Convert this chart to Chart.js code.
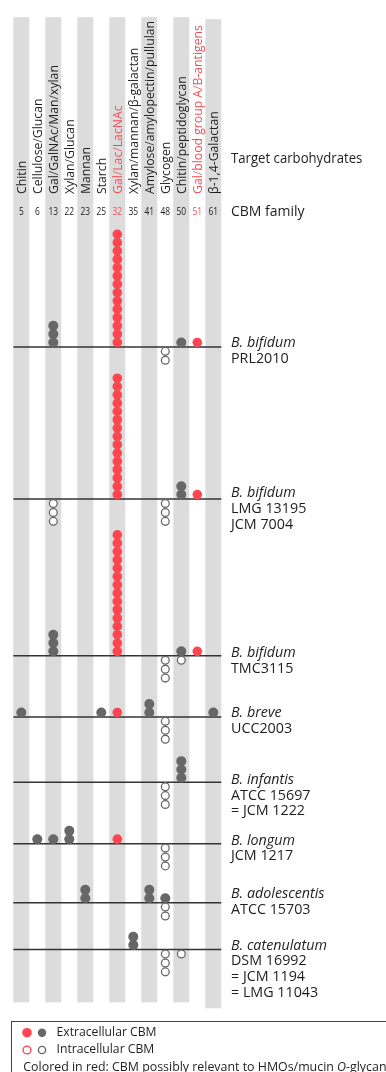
<!DOCTYPE html>
<html>
<head>
<meta charset="utf-8">
<script src="https://cdn.jsdelivr.net/npm/chart.js@4/dist/chart.umd.min.js"></script>
<style>
  html, body { margin: 0; padding: 0; background: #fff; }
  #wrap { width: 386px; height: 1072px; position: relative; overflow: hidden; }
</style>
</head>
<body>
<div id="wrap"><canvas id="cbmChart" width="386" height="1072"></canvas></div>
<script>
// CBM families (x categories) and their target carbohydrates
const families = ["5", "6", "13", "22", "23", "25", "32", "35", "41", "48", "50", "51", "61"];
const targets = [
  "Chitin", "Cellulose/Glucan", "Gal/GalNAc/Man/xylan", "Xylan/Glucan", "Mannan",
  "Starch", "Gal/Lac/LacNAc", "Xylan/mannan/β-galactan", "Amylose/amylopectin/pullulan",
  "Glycogen", "Chitin/peptidoglycan", "Gal/blood group A/B-antigens", "β-1,4-Galactan"
];
const redFamilies = ["32", "51"];

// strains
const strainNames = ["B. bifidum", "B. bifidum", "B. bifidum", "B. breve", "B. infantis", "B. longum", "B. adolescentis", "B. catenulatum"];
const strainIds = [
  ["PRL2010"], ["LMG 13195", "JCM 7004"], ["TMC3115"], ["UCC2003"],
  ["ATCC 15697", "= JCM 1222"], ["JCM 1217"], ["ATCC 15703"],
  ["DSM 16992", "= JCM 1194", "= LMG 11043"]
];

// number of CBMs per family (one row per strain)
const extracellular = [
  [0, 0, 3, 0, 0, 0, 14, 0, 0, 0, 1, 1, 0],
  [0, 0, 0, 0, 0, 0, 15, 0, 0, 0, 2, 1, 0],
  [0, 0, 3, 0, 0, 0, 15, 0, 0, 0, 1, 1, 0],
  [1, 0, 0, 0, 0, 1, 1, 0, 2, 0, 0, 0, 1],
  [0, 0, 0, 0, 0, 0, 0, 0, 0, 0, 3, 0, 0],
  [0, 1, 1, 2, 0, 0, 1, 0, 0, 0, 0, 0, 0],
  [0, 0, 0, 0, 2, 0, 0, 0, 2, 1, 0, 0, 0],
  [0, 0, 0, 0, 0, 0, 0, 2, 0, 0, 0, 0, 0]
];
const intracellular = [
  [0, 0, 0, 0, 0, 0, 0, 0, 0, 2, 0, 0, 0],
  [0, 0, 3, 0, 0, 0, 0, 0, 0, 3, 0, 0, 0],
  [0, 0, 0, 0, 0, 0, 0, 0, 0, 3, 1, 0, 0],
  [0, 0, 0, 0, 0, 0, 0, 0, 0, 3, 0, 0, 0],
  [0, 0, 0, 0, 0, 0, 0, 0, 0, 3, 0, 0, 0],
  [0, 0, 0, 0, 0, 0, 0, 0, 0, 3, 0, 0, 0],
  [0, 0, 0, 0, 0, 0, 0, 0, 0, 2, 0, 0, 0],
  [0, 0, 0, 0, 0, 0, 0, 0, 0, 3, 1, 0, 0]
];

// layout (y axis units = px)
const baseY = [345, 498.7, 657, 718.7, 784.7, 846.7, 906.3, 953.7];
const labelShift = [-4, -6, -3, -3.5, -2.5, -3, -8.5, -4];
const STEP_UP = 8.4, STEP_DOWN = 9, FIRST = 4.5;

const RED = "#ff4650";
const RED_TEXT = "#f0505a";
const GRAY = "#676767";
const BAND = "#dcdcdc";
const INK = "#1e1e1e";
const FONT = "'Open Sans', sans-serif";

function dots(rows, above, wantRed) {
  const pts = [];
  rows.forEach((row, s) => {
    row.forEach((n, c) => {
      if (redFamilies.includes(families[c]) !== wantRed) return;
      for (let k = 0; k < n; k++) {
        const y = above ? baseY[s] - FIRST - k * STEP_UP : baseY[s] + FIRST + k * STEP_DOWN;
        pts.push({ x: c, y: y });
      }
    });
  });
  return pts;
}

// text squeezed horizontally (the source type is narrow)
function squeezed(ctx, text, x, y, sx) {
  ctx.save();
  ctx.translate(x, y);
  ctx.scale(sx, 1);
  ctx.fillText(text, 0, 0);
  ctx.restore();
}

// bands, baselines and all text
const backdrop = {
  id: "backdrop",
  beforeDatasetsDraw(chart) {
    const ctx = chart.ctx;
    const x = chart.scales.x, y = chart.scales.y;
    ctx.save();
    ctx.fillStyle = BAND;
    families.forEach((f, c) => {
      if (c % 2) return;
      const last = c === families.length - 1;
      const top = y.getPixelForValue(last ? 14 : 12);
      const bot = y.getPixelForValue(last ? 1013 : 1007);
      const l = x.getPixelForValue(c - 0.5), r = x.getPixelForValue(c + 0.5);
      ctx.fillRect(l, top, r - l, bot - top);
    });
    ctx.strokeStyle = "#333";
    ctx.lineWidth = 1.5;
    baseY.forEach((b) => {
      const py = y.getPixelForValue(b);
      ctx.beginPath();
      ctx.moveTo(x.getPixelForValue(-0.5), py);
      ctx.lineTo(x.getPixelForValue(families.length - 0.5), py);
      ctx.stroke();
    });
    ctx.restore();
  },
  afterDraw(chart) {
    const ctx = chart.ctx;
    const x = chart.scales.x, y = chart.scales.y;
    ctx.save();
    ctx.fillStyle = INK;
    ctx.textAlign = "left";
    ctx.textBaseline = "middle";

    // rotated target labels
    ctx.font = "13px " + FONT;
    targets.forEach((t, c) => {
      ctx.save();
      ctx.translate(x.getPixelForValue(c) + 1, 194);
      ctx.rotate(-Math.PI / 2);
      ctx.scale(0.94, 1);
      ctx.fillStyle = redFamilies.includes(families[c]) ? RED_TEXT : INK;
      ctx.fillText(t, 0, 0);
      ctx.restore();
    });
    ctx.font = "14px " + FONT;
    squeezed(ctx, "Target carbohydrates", 231, 159, 0.94);

    // family numbers
    ctx.font = "10.5px " + FONT;
    ctx.textAlign = "center";
    families.forEach((f, c) => {
      ctx.fillStyle = redFamilies.includes(f) ? RED_TEXT : INK;
      squeezed(ctx, f, x.getPixelForValue(c), 212, 0.8);
    });
    ctx.fillStyle = INK;
    ctx.textAlign = "left";
    ctx.font = "14px " + FONT;
    squeezed(ctx, "CBM family", 231, 212, 1.0);

    // strain labels
    strainNames.forEach((name, s) => {
      const y0 = y.getPixelForValue(baseY[s]) + labelShift[s];
      ctx.font = "italic 14.3px " + FONT;
      ctx.fillText(name, 231, y0);
      ctx.font = "14.3px " + FONT;
      strainIds[s].forEach((id, i) => ctx.fillText(id, 231, y0 + 15.8 * (i + 1)));
    });

    // legend box
    ctx.strokeStyle = "#444";
    ctx.lineWidth = 1;
    ctx.strokeRect(11.5, 1021.5, 420, 100);
    const mark = (cx, cy, col, open, r) => {
      ctx.beginPath();
      ctx.arc(cx, cy, r, 0, Math.PI * 2);
      if (open) {
        ctx.fillStyle = "#fff";
        ctx.fill();
        ctx.lineWidth = 1.4;
        ctx.strokeStyle = col;
        ctx.stroke();
      } else {
        ctx.fillStyle = col;
        ctx.fill();
      }
    };
    mark(27, 1032.7, RED, false, 4.8);
    mark(42, 1032.7, GRAY, false, 4.2);
    mark(27, 1050, RED, true, 3.9);
    mark(42, 1050, GRAY, true, 3.6);
    ctx.fillStyle = INK;
    ctx.font = "12.2px " + FONT;
    ctx.fillText("Extracellular CBM", 56.5, 1032.7);
    ctx.fillText("Intracellular CBM", 56.5, 1050);
    ctx.font = "12.4px " + FONT;
    let tx = 23.3;
    const p1 = "Colored in red: CBM possibly relevant to HMOs/mucin ";
    ctx.fillText(p1, tx, 1067.7);
    tx += ctx.measureText(p1).width;
    ctx.font = "italic 12.4px " + FONT;
    ctx.fillText("O", tx, 1067.7);
    tx += ctx.measureText("O").width;
    ctx.font = "12.4px " + FONT;
    ctx.fillText("-glycan", tx, 1067.7);
    ctx.restore();
  }
};

new Chart(document.getElementById("cbmChart"), {
  type: "scatter",
  data: {
    datasets: [
      { label: "Extracellular CBM", data: dots(extracellular, true, true), backgroundColor: RED, borderWidth: 0, pointRadius: 4.8 },
      { label: "Extracellular CBM", data: dots(extracellular, true, false), backgroundColor: GRAY, borderWidth: 0, pointRadius: 5 },
      { label: "Intracellular CBM", data: dots(intracellular, false, true), backgroundColor: "#fff", borderColor: RED, borderWidth: 1.3, pointRadius: 3.9 },
      { label: "Intracellular CBM", data: dots(intracellular, false, false), backgroundColor: "#fff", borderColor: GRAY, borderWidth: 1.3, pointRadius: 3.9 }
    ]
  },
  options: {
    responsive: false,
    animation: false,
    events: [],
    layout: { padding: { left: 13.3, right: 164.7, top: 0, bottom: 0 } },
    scales: {
      x: { type: "linear", min: -0.5, max: 12.5, display: false },
      y: { type: "linear", min: 0, max: 1072, reverse: true, display: false }
    },
    plugins: { legend: { display: false }, tooltip: { enabled: false } }
  },
  plugins: [backdrop]
});
</script>
</body>
</html>
